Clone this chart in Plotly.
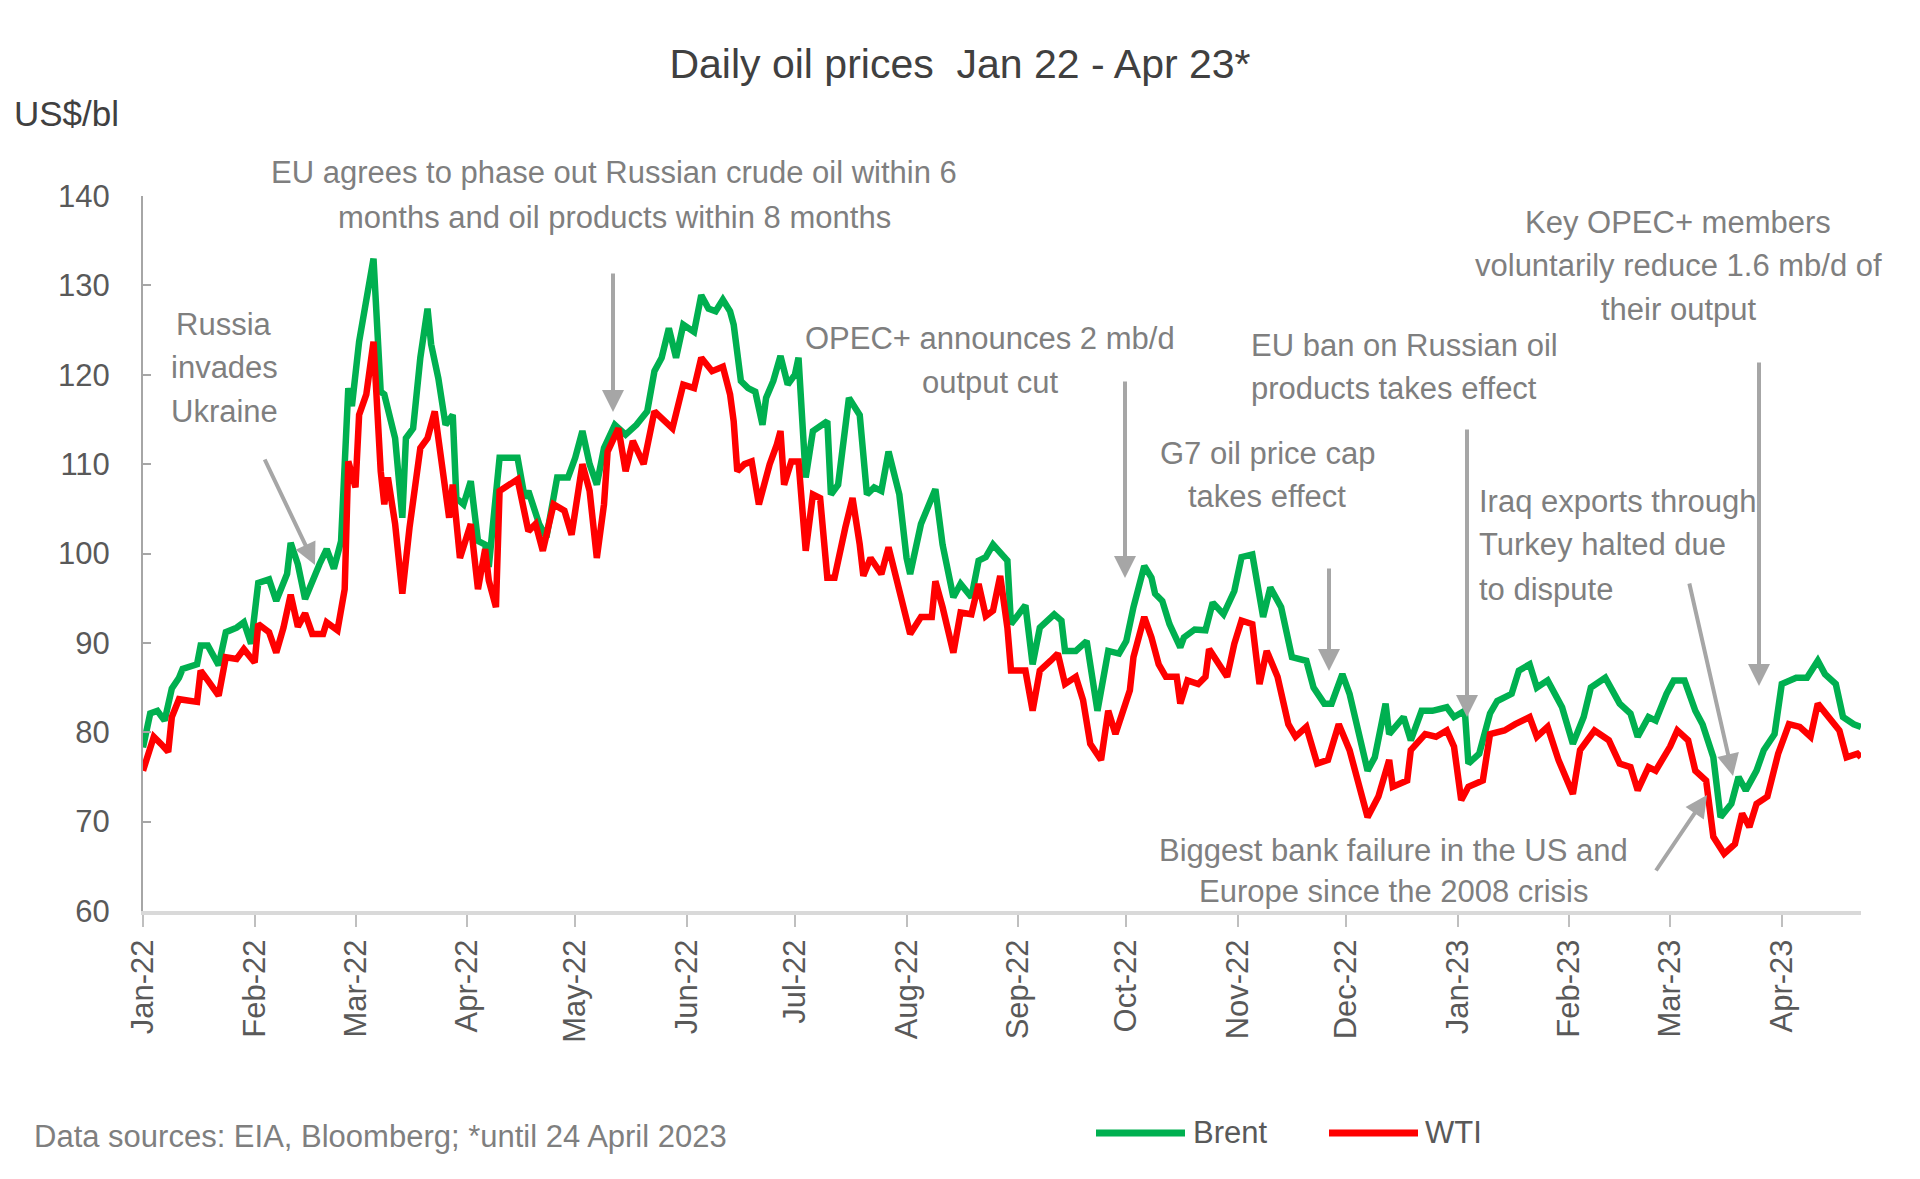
import datetime as dt
import plotly.graph_objects as go

# ---------------- data ----------------
# observation dates given as day offsets from 1 Jan 2022
brent_day = [0, 2, 4, 6, 8, 10, 11, 15, 16, 18, 21, 23, 26, 28, 30, 32, 35, 37, 40, 41, 43, 45, 49, 51, 53, 55,
             57, 58, 60, 62, 64, 66, 67, 70, 72, 73, 75, 77, 79, 80, 82, 84, 86, 87, 89, 91, 93, 95, 96, 99,
             104, 106, 107, 110, 112, 115, 118, 120, 122, 124, 126, 128, 131, 134, 137, 140, 142, 144, 146, 148,
             150, 153, 155, 157, 159, 161, 163, 164, 166, 168, 170, 172, 173, 175, 177, 179, 181, 182, 184, 186,
             190, 191, 193, 196, 199, 201, 203, 205, 207, 210, 212, 213, 216, 220, 222, 225, 227, 230, 232, 234,
             236, 240, 241, 245, 247, 249, 253, 255, 256, 259, 262, 265, 268, 271, 273, 275, 278, 280, 281, 283,
             285, 288, 289, 292, 295, 297, 300, 303, 305, 308, 311, 313, 316, 319, 323, 325, 328, 330, 333, 335,
             340, 342, 345, 346, 350, 352, 355, 358, 362, 364, 367, 368, 371, 374, 376, 380, 382, 385, 387, 390,
             394, 397, 400, 402, 406, 410, 413, 415, 418, 420, 423, 425, 428, 431, 433, 436, 438, 441, 443, 445,
             448, 450, 453, 455, 459, 462, 465, 467, 470, 472, 475, 477]
brent_usd = [78.3, 82.1, 82.4, 81.3, 84.9, 86.1, 87.1, 87.6, 89.7, 89.7, 87.5, 91.2, 91.7, 92.3, 89.9, 96.7, 97.1,
             94.7, 97.7, 101.2, 98.8, 94.9, 98.8, 100.5, 98.3, 101.4,
             118.5, 116.5, 123.7, 128.6, 133.0, 118.1, 117.8, 112.9, 104.0, 112.9, 114.0, 121.9, 127.4, 123.4,
             119.6, 114.4, 115.5, 106.2, 105.5, 108.1, 101.4, 101.0, 98.5, 110.7,
             110.7, 106.2, 107.0, 103.3, 101.8, 108.5, 108.5, 110.7, 113.7, 110.0, 107.7, 111.8, 114.4, 113.3,
             114.4, 115.9, 120.4, 121.9, 125.2, 121.9,
             125.6, 124.8, 128.9, 127.4, 127.1, 128.4, 127.1, 125.6, 119.3, 118.5, 118.1, 114.4, 117.4, 119.3,
             122.1, 118.9, 120.0, 121.9, 108.5, 113.7,
             114.8, 106.6, 107.7, 117.4, 115.5, 106.6, 107.4, 107.0, 111.4, 106.6, 99.5, 97.7, 103.3, 107.2,
             101.0, 95.1, 96.6, 95.1, 99.2, 99.6,
             101.0, 99.2, 92.1, 94.2, 87.6, 91.7, 93.2, 92.5, 89.1, 89.1, 90.2, 82.4, 89.1, 88.8, 90.2, 94.0,
             98.6, 97.3, 95.5, 94.7,
             92.1, 89.5, 90.6, 91.5, 91.4, 94.5, 93.2, 95.8, 99.6, 99.9, 92.9, 96.2, 94.0, 88.4, 88.0, 85.0,
             83.2, 83.2, 86.5, 84.3,
             75.7, 77.2, 83.2, 79.8, 81.7, 79.1, 82.4, 82.4, 82.8, 81.7, 82.4, 76.5, 77.6, 82.1, 83.5, 84.3,
             86.9, 87.6, 85.0, 85.8,
             82.8, 78.7, 81.7, 85.0, 86.1, 83.2, 82.1, 79.5, 81.7, 81.3, 84.3, 85.8, 85.8, 82.4, 80.9, 77.2,
             70.5, 72.0, 75.0, 73.5,
             75.7, 78.0, 79.8, 85.4, 86.1, 86.1, 88.0, 86.5, 85.4, 81.7, 80.9, 80.6]

wti_day = [0, 3, 5, 7, 8, 10, 15, 16, 18, 21, 23, 26, 28, 31, 32, 35, 37, 39, 41, 43, 45, 47, 50, 51, 54, 55, 56,
           57, 59, 60, 62, 64, 66, 67, 68, 70, 72, 74, 77, 79, 81, 82, 85, 86, 88, 91, 93, 95, 96, 98, 99,
           104, 107, 109, 111, 114, 117, 119, 122, 124, 126, 128, 129, 132, 134, 136, 139, 142, 145, 147, 150,
           153, 155, 158, 161, 163, 164, 165, 167, 169, 171, 174, 176, 177, 178, 180, 182, 184, 186, 188, 190,
           192, 195, 197, 199, 200, 202, 205, 207, 210, 213, 216, 219, 220, 222, 225, 227, 230, 232, 234, 236,
           238, 240, 241, 245, 247, 249, 252, 254, 256, 259, 261, 263, 266, 268, 270, 274, 275, 278, 280, 282,
           284, 287, 288, 290, 293, 295, 296, 299, 301, 303, 305, 308, 310, 312, 315, 318, 320, 323, 326, 329,
           332, 335, 338, 340, 343, 346, 347, 351, 352, 356, 359, 362, 364, 366, 368, 372, 374, 378, 381, 385,
           387, 390, 393, 397, 399, 403, 407, 410, 413, 415, 418, 420, 424, 426, 429, 431, 434, 436, 439, 442,
           444, 446, 448, 451, 454, 457, 460, 463, 465, 468, 471, 473, 476, 477]
wti_usd = [75.7, 79.5, 78.7, 77.8, 81.7, 83.7, 83.4, 86.9, 85.8, 84.1, 88.4, 88.2, 89.3, 87.8, 92.1, 91.2, 88.9,
           91.7, 95.4, 91.8, 93.3, 91.0, 91.0, 92.3, 91.4, 94.0, 96.0,
           110.3, 107.4, 115.5, 117.8, 123.7, 109.2, 105.5, 108.5, 103.3, 95.5, 102.9, 111.8, 112.9, 115.9,
           112.9, 104.0, 107.7, 99.5, 103.3, 96.0, 100.5, 97.0, 94.0, 107.0,
           108.3, 102.5, 103.3, 100.3, 105.5, 104.8, 102.1, 110.0, 107.0, 99.5, 105.5, 111.4, 114.0, 109.2,
           112.6, 110.0, 115.9, 114.8, 114.0, 118.9,
           118.5, 121.9, 120.4, 120.9, 117.8, 114.8, 109.2, 110.0, 110.3, 105.5, 110.0, 112.2, 113.7, 107.7,
           110.3, 110.3, 100.3, 106.6, 106.2, 97.3,
           97.3, 102.9, 106.2, 101.0, 97.5, 99.5, 97.7, 100.7, 96.2, 91.0, 92.9, 92.9, 96.9, 94.0, 88.9, 93.4,
           93.2, 96.6, 93.0, 93.6,
           97.5, 91.7, 86.9, 86.9, 82.4, 86.9, 88.0, 88.8, 85.4, 86.2, 83.6, 78.7, 76.9, 82.4, 79.8, 84.7,
           88.4, 92.9, 90.6, 87.6,
           86.2, 86.2, 83.2, 85.8, 85.4, 86.2, 89.3, 87.3, 86.2, 89.9, 92.5, 92.1, 85.4, 89.1, 86.2, 80.9,
           79.5, 80.6, 76.5, 76.9,
           80.9, 78.0, 73.5, 70.5, 72.8, 76.9, 73.9, 74.6, 78.0, 79.8, 79.5, 80.2, 78.4, 72.4, 73.9, 74.6,
           79.8, 80.2, 80.9, 81.7,
           79.5, 80.6, 76.9, 73.1, 78.0, 80.2, 79.1, 76.5, 76.1, 73.5, 76.1, 75.7, 78.4, 80.2, 79.1, 75.7,
           74.6, 68.3, 66.4, 67.5,
           70.9, 69.4, 72.0, 72.8, 77.6, 80.9, 80.6, 79.5, 83.2, 81.7, 80.2, 77.2, 77.6, 77.2]

month_ticks = ["2022-01-01", "2022-02-01", "2022-03-01", "2022-04-01", "2022-05-01", "2022-06-01",
               "2022-07-01", "2022-08-01", "2022-09-01", "2022-10-01", "2022-11-01", "2022-12-01",
               "2023-01-01", "2023-02-01", "2023-03-01", "2023-04-01"]
month_labels = ["Jan-22", "Feb-22", "Mar-22", "Apr-22", "May-22", "Jun-22", "Jul-22", "Aug-22", "Sep-22",
                "Oct-22", "Nov-22", "Dec-22", "Jan-23", "Feb-23", "Mar-23", "Apr-23"]
y_ticks = [60, 70, 80, 90, 100, 110, 120, 130, 140]

series_names = ["Brent", "WTI"]
series_colors = ["#00B050", "#FF0000"]

# ---------------- figure ----------------
base = dt.date(2022, 1, 1)
brent_dates = [base + dt.timedelta(days=d) for d in brent_day]
wti_dates = [base + dt.timedelta(days=d) for d in wti_day]

FONT = "Liberation Sans, Arial, sans-serif"
OFF = 8                      # page body margin added by the browser
W, H = 1920 - OFF, 1179 - OFF
# plot area in screen pixels of the target picture
SL, SR, ST, SB = 143, 1861, 196, 911
PL, PR, PT, PB = SL - OFF, SR - OFF, ST - OFF, SB - OFF


def px(xs):
    return (xs - SL) / (SR - SL)


def py(ys):
    return (SB - ys) / (SB - ST)


fig = go.Figure()
fig.add_trace(go.Scatter(x=brent_dates, y=brent_usd, mode="lines", name=series_names[0],
                         line=dict(color=series_colors[0], width=6.5), showlegend=False))
fig.add_trace(go.Scatter(x=wti_dates, y=wti_usd, mode="lines", name=series_names[1],
                         line=dict(color=series_colors[1], width=6.5), showlegend=False))

ann = []
TXT = "#7F7F7F"
ARR = "#A6A6A6"


def text(s, x, y, anchor="center", size=31, color=TXT):
    ann.append(dict(text=s, x=px(x), y=py(y), xref="paper", yref="paper", showarrow=False,
                    xanchor=anchor, yanchor="middle", font=dict(family=FONT, size=size, color=color)))


def arrow(head, tail):
    ann.append(dict(text="", x=px(head[0]), y=py(head[1]), xref="paper", yref="paper",
                    showarrow=True, ax=tail[0] - head[0], ay=tail[1] - head[1],
                    arrowhead=2, arrowsize=1.1, arrowwidth=4, arrowcolor=ARR, standoff=0))


# annotation texts
for s, yy in zip(["Russia", "invades", "Ukraine"], [324, 367, 411]):
    text(s, 224, yy)
for s, yy in zip(["EU agrees to phase out Russian crude oil within 6",
                  "months and oil products within 8 months"], [173, 217]):
    text(s, 614, yy)
for s, yy in zip(["OPEC+ announces 2 mb/d", "output cut"], [338, 382]):
    text(s, 990, yy)
for s, yy in zip(["G7 oil price cap", "takes effect"], [454, 496]):
    text(s, 1267, yy)
for s, yy in zip(["EU ban on Russian oil", "products takes effect"], [345, 388]):
    text(s, 1249, yy, anchor="left")
for s, yy in zip(["Key OPEC+ members", "voluntarily reduce 1.6 mb/d of", "their output"], [222, 265, 309]):
    text(s, 1678, yy)
for s, yy in zip(["Iraq exports through", "Turkey halted due", "to dispute"], [501, 544, 589]):
    text(s, 1477, yy, anchor="left")
for s, yy in zip(["Biggest bank failure in the US and", "Europe since the 2008 crisis"], [850, 891]):
    text(s, 1393, yy)

# arrows (head, tail) in screen pixels
arrow((315, 565), (264, 458))
arrow((613, 412), (613, 272))
arrow((1125, 578), (1125, 380))
arrow((1329, 671), (1329, 567))
arrow((1467, 717), (1467, 428))
arrow((1759, 686), (1759, 361))
arrow((1733, 776), (1689, 582))
arrow((1707, 795), (1655, 872))

# unit label and source note
text("US$/bl", 12, 113, anchor="left", size=35, color="#404040")
text("Data sources: EIA, Bloomberg; *until 24 April 2023", 32, 1136, anchor="left", size=31, color=TXT)

# custom legend (long line samples)
shapes = []
for (x0, x1, tx), name, col in zip([(1096, 1185, 1191), (1329, 1418, 1423)], series_names, series_colors):
    shapes.append(dict(type="line", xref="paper", yref="paper", x0=px(x0), x1=px(x1),
                       y0=py(1133), y1=py(1133), line=dict(color=col, width=7)))
    text(name, tx, 1132, anchor="left", size=31, color="#595959")

fig.update_layout(
    width=W, height=H, autosize=False,
    margin=dict(l=PL, r=W - PR, t=PT, b=H - PB),
    paper_bgcolor="white", plot_bgcolor="white",
    title=dict(text="Daily oil prices  Jan 22 - Apr 23*", x=(960 - OFF) / W, xanchor="center",
               y=1 - (64 - OFF) / H, yanchor="middle", font=dict(family=FONT, size=41, color="#404040")),
    annotations=ann, shapes=shapes, showlegend=False,
    font=dict(family=FONT),
)
fig.update_xaxes(type="date", range=[base, base + dt.timedelta(days=477)],
                 tickvals=month_ticks, ticktext=month_labels, tickangle=-90,
                 showgrid=False, zeroline=False, showline=True, linecolor="#D9D9D9", linewidth=4,
                 ticks="outside", ticklen=12, tickwidth=2, tickcolor="#BFBFBF",
                 tickfont=dict(family=FONT, size=31, color="#595959"), ticklabelstandoff=0)
fig.update_yaxes(range=[60, 140], tickvals=y_ticks, showgrid=False, zeroline=False,
                 showline=True, linecolor="#A6A6A6", linewidth=2,
                 ticks="inside", ticklen=8, tickwidth=2, tickcolor="#A6A6A6",
                 tickfont=dict(family=FONT, size=31, color="#595959"), ticklabelstandoff=25)

fig.write_html("out.html")
